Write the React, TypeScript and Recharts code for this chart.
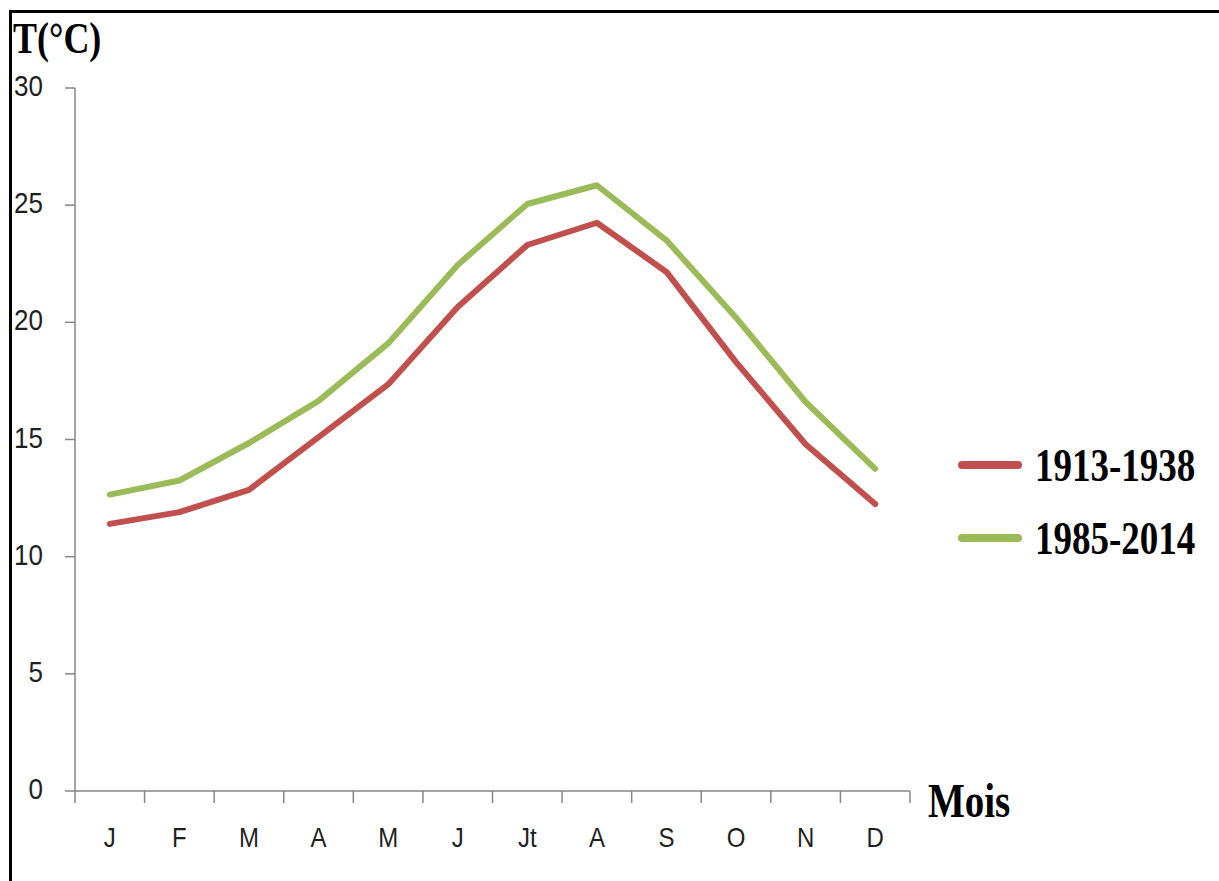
import { LineChart, Line, XAxis, YAxis, Legend, Label } from 'recharts';

const months = ['J', 'F', 'M', 'A', 'M', 'J', 'Jt', 'A', 'S', 'O', 'N', 'D'];
const temp1913 = [11.4, 11.9, 12.85, 15.1, 17.35, 20.65, 23.3, 24.25, 22.15, 18.3, 14.8, 12.25];
const temp1985 = [12.65, 13.25, 14.85, 16.65, 19.1, 22.45, 25.05, 25.85, 23.5, 20.2, 16.6, 13.75];
const yTicks = [0, 5, 10, 15, 20, 25, 30];
const xTicks = [0, 1, 2, 3, 4, 5, 6, 7, 8, 9, 10, 11, 12];

const data = months.map((m, i) => ({ x: i + 0.5, month: m, a: temp1913[i], b: temp1985[i] }));

const SERIF = '"Liberation Serif", "Times New Roman", serif';
const SANS = '"Liberation Sans", Arial, sans-serif';
const AXIS = '#868686';
const HALF_BAND = 835 / 24;

const YTick = ({ x, y, payload }: any) => (
  <text
    transform={`translate(${x},${y + 8}) scale(1,1.13)`}
    textAnchor="end"
    fontFamily={SANS}
    fontSize={26}
    fill="#1f1f1f"
  >
    {payload.value}
  </text>
);

const XTick = ({ x, y, payload }: any) => {
  const i = payload.value;
  if (i >= months.length) return null;
  return (
    <text
      transform={`translate(${x + HALF_BAND},${y + 42}) scale(1,1.13)`}
      textAnchor="middle"
      fontFamily={SANS}
      fontSize={24}
      fill="#1f1f1f"
    >
      {months[i]}
    </text>
  );
};

const LegendBox = ({ payload }: any) => (
  <div>
    {(payload || []).map((p: any, i: number) => (
      <div key={i} style={{ display: 'flex', alignItems: 'center', height: 73 }}>
        <div style={{ width: 64, height: 8, borderRadius: 4, background: p.color }} />
        <span
          style={{
            marginLeft: 13,
            fontFamily: SERIF,
            fontWeight: 'bold',
            fontSize: 37,
            color: '#000',
            display: 'inline-block',
            transform: 'scale(1,1.28)',
            lineHeight: 1,
          }}
        >
          {p.value}
        </span>
      </div>
    ))}
  </div>
);

export default function App() {
  return (
    <div style={{ position: 'absolute', left: 0, top: 0, width: 1219, height: 881, background: '#fff' }}>
      <div
        style={{
          position: 'absolute',
          left: 9,
          top: 10,
          right: 0,
          bottom: 0,
          borderTop: '3px solid #000',
          borderLeft: '3px solid #000',
        }}
      />
      <LineChart
        width={1219}
        height={881}
        data={data}
        margin={{ top: 88, right: 309, bottom: 50, left: 15 }}
        style={{ position: 'absolute', left: 0, top: 0 }}
      >
        <XAxis
          type="number"
          dataKey="x"
          domain={[0, 12]}
          ticks={xTicks}
          interval={0}
          height={40}
          tickSize={12}
          stroke={AXIS}
          strokeWidth={1.5}
          tick={<XTick />}
        >
          <Label
            content={({ viewBox }: any) => (
              <text
                transform={`translate(${viewBox.x + viewBox.width + 18},${viewBox.y + 26}) scale(1,1.27)`}
                fontFamily={SERIF}
                fontWeight="bold"
                fontSize={39}
                fill="#000"
              >
                Mois
              </text>
            )}
          />
        </XAxis>
        <YAxis
          type="number"
          domain={[0, 30]}
          ticks={yTicks}
          interval={0}
          width={60}
          tickSize={10}
          tickMargin={22}
          stroke={AXIS}
          strokeWidth={1.5}
          tick={<YTick />}
        >
          <Label
            content={({ viewBox }: any) => (
              <text
                transform={`translate(13,${viewBox.y - 35}) scale(1,1.25)`}
                fontFamily={SERIF}
                fontWeight="bold"
                fontSize={36}
                fill="#000"
              >
                T(°C)
              </text>
            )}
          />
        </YAxis>
        <Legend
          layout="vertical"
          align="center"
          verticalAlign="middle"
          content={<LegendBox />}
          wrapperStyle={{ left: 958, top: 428, width: 260 }}
        />
        <Line
          dataKey="a"
          name="1913-1938"
          stroke="#C0504D"
          strokeWidth={6}
          strokeLinejoin="round"
          strokeLinecap="round"
          dot={false}
          isAnimationActive={false}
        />
        <Line
          dataKey="b"
          name="1985-2014"
          stroke="#9BBB59"
          strokeWidth={6}
          strokeLinejoin="round"
          strokeLinecap="round"
          dot={false}
          isAnimationActive={false}
        />
      </LineChart>
    </div>
  );
}
